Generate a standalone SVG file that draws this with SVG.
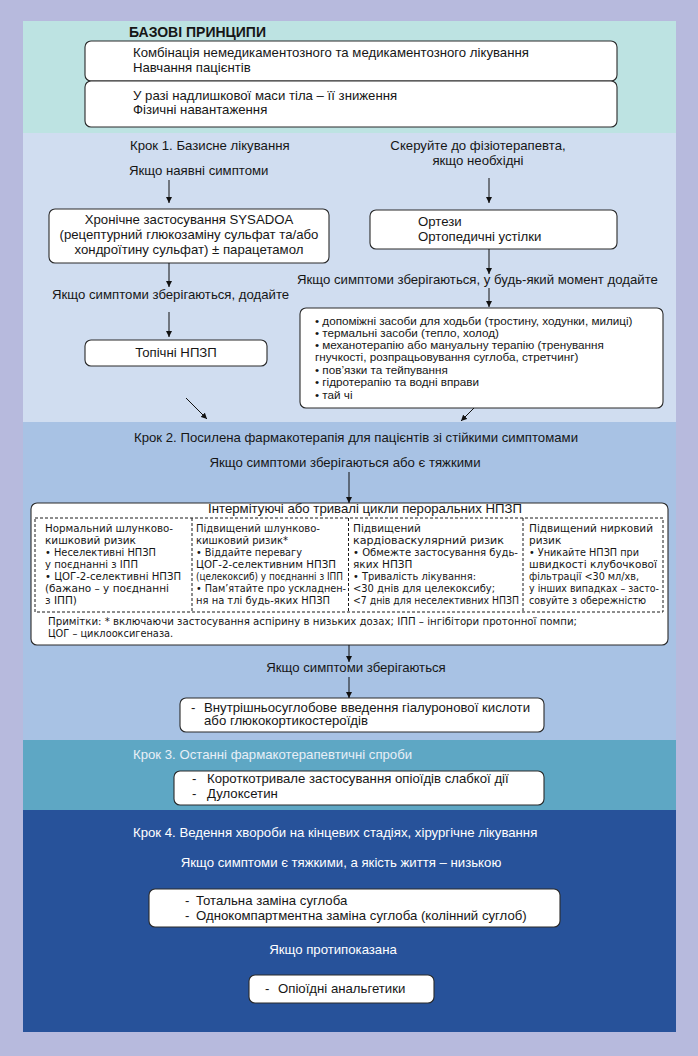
<svg xmlns="http://www.w3.org/2000/svg" width="698" height="1056" viewBox="0 0 698 1056">
<defs>
<marker id="ah" viewBox="0 0 10 10" refX="10" refY="5" markerWidth="6" markerHeight="7" markerUnits="userSpaceOnUse" orient="auto">
<path d="M0,0 L10,5 L0,10 z" fill="#111"/>
</marker>
<style>
.t{font-family:"Liberation Sans",Arial,sans-serif;font-size:13.2px;fill:#161616}
.b{font-weight:bold;font-size:14px}
.s{font-family:"Liberation Sans",Arial,sans-serif;font-size:11.7px;fill:#161616}
.tb{font-family:"DejaVu Sans",Verdana,sans-serif;font-size:10.5px;fill:#161616}
.nt{font-family:"DejaVu Sans",Verdana,sans-serif;font-size:9.8px;fill:#161616}
.w{fill:#ffffff}
.lw{fill:#e8eff7}
.c{text-anchor:middle}
.box{fill:#ffffff;stroke:#2a2a2a;stroke-width:1.1}
.dash{fill:none;stroke:#1a1a1a;stroke-width:1;stroke-dasharray:3,2}
.ln{stroke:#111;stroke-width:1;fill:none}
</style>
</defs>
<rect x="0" y="0" width="698" height="1056" fill="#b7badd"/>
<rect x="23" y="21" width="653" height="112" fill="#bde3e2"/>
<rect x="23" y="133" width="653" height="289" fill="#d0ddf0"/>
<rect x="23" y="422" width="653" height="318" fill="#a8c2e4"/>
<rect x="23" y="740" width="653" height="70" fill="#5ea7c4"/>
<rect x="23" y="810" width="653" height="222" fill="#27529a"/>

<g id="base-title"><text class="t b" x="129" y="37">БАЗОВІ ПРИНЦИПИ</text></g>
<g id="base-box1">
<rect class="box" x="85" y="41" width="532" height="40" rx="6"/>
<text class="t" x="133" y="57">Комбінація немедикаментозного та медикаментозного лікування</text>
<text class="t" x="133" y="72">Навчання пацієнтів</text>
</g>
<g id="base-box2">
<rect class="box" x="85" y="81" width="532" height="46" rx="6"/>
<text class="t" x="133" y="100">У разі надлишкової маси тіла – її зниження</text>
<text class="t" x="133" y="114">Фізичні навантаження</text>
</g>

<g id="step1-title"><text class="t" x="130" y="150">Крок 1. Базисне лікування</text></g>
<g id="step1-cond"><text class="t" x="129" y="175">Якщо наявні симптоми</text></g>
<g id="sysadoa">
<rect class="box" x="49" y="209" width="280" height="54" rx="6"/>
<text class="t c" x="189" y="224">Хронічне застосування SYSADOA</text>
<text class="t c" x="189" y="239">(рецептурний глюкозаміну сульфат та/або</text>
<text class="t c" x="189" y="254">хондроїтину сульфат) ± парацетамол</text>
</g>
<g id="cond-left"><text class="t" x="52" y="299">Якщо симптоми зберігаються, додайте</text></g>
<g id="topical">
<rect class="box" x="85" y="340" width="182" height="26" rx="6"/>
<text class="t c" x="176" y="357">Топічні НПЗП</text>
</g>
<g id="physio"><text class="t c" x="478" y="150">Скеруйте до фізіотерапевта,</text><text class="t c" x="478" y="165">якщо необхідні</text></g>
<g id="orthoses">
<rect class="box" x="370" y="210" width="247" height="39" rx="6"/>
<text class="t" x="418" y="226">Ортези</text>
<text class="t" x="418" y="241">Ортопедичні устілки</text>
</g>
<g id="cond-right"><text class="t" x="297" y="284">Якщо симптоми зберігаються, у будь-який момент додайте</text></g>
<g id="aids">
<rect class="box" x="300" y="308" width="363" height="100" rx="6"/>
<text class="s" x="315" y="325">• допоміжні засоби для ходьби (тростину, ходунки, милиці)</text>
<text class="s" x="315" y="337">• термальні засоби (тепло, холод)</text>
<text class="s" x="315" y="349">• механотерапію або мануальну терапію (тренування</text>
<text class="s" x="315" y="361">гнучкості, розпрацьовування суглоба, стретчинг)</text>
<text class="s" x="315" y="374">• пов’язки та тейпування</text>
<text class="s" x="315" y="386">• гідротерапію та водні вправи</text>
<text class="s" x="315" y="399">• тай чі</text>
</g>

<g id="step2-title"><text class="t c" x="356" y="442">Крок 2. Посилена фармакотерапія для пацієнтів зі стійкими симптомами</text></g>
<g id="step2-cond"><text class="t c" x="345" y="467">Якщо симптоми зберігаються або є тяжкими</text></g>
<g id="nsaid">
<rect class="box" x="31" y="503" width="637" height="142" rx="6"/>
<text class="t c" x="365" y="513">Інтермітуючі або тривалі цикли пероральних НПЗП</text>
<rect class="dash" x="35" y="518" width="628" height="94"/>
<line class="dash" x1="192" y1="518" x2="192" y2="612"/>
<line class="dash" x1="348.5" y1="518" x2="348.5" y2="612"/>
<line class="dash" x1="523" y1="518" x2="523" y2="612"/>
<text class="tb" x="45" y="532" textLength="128" lengthAdjust="spacingAndGlyphs">Нормальний шлунково-</text>
<text class="tb" x="45" y="544">кишковий ризик</text>
<text class="tb" x="45" y="556" textLength="111" lengthAdjust="spacingAndGlyphs">• Неселективні НПЗП</text>
<text class="tb" x="45" y="568" textLength="93" lengthAdjust="spacingAndGlyphs">у поєднанні з ІПП</text>
<text class="tb" x="45" y="580" textLength="136" lengthAdjust="spacingAndGlyphs">• ЦОГ-2-селективні НПЗП</text>
<text class="tb" x="45" y="592">(бажано – у поєднанні</text>
<text class="tb" x="45" y="604">з ІПП)</text>
<text class="tb" x="196" y="532" textLength="124" lengthAdjust="spacingAndGlyphs">Підвищений шлунково-</text>
<text class="tb" x="196" y="544" textLength="92" lengthAdjust="spacingAndGlyphs">кишковий ризик*</text>
<text class="tb" x="196" y="556" textLength="106" lengthAdjust="spacingAndGlyphs">• Віддайте перевагу</text>
<text class="tb" x="196" y="568" textLength="140" lengthAdjust="spacingAndGlyphs">ЦОГ-2-селективним НПЗП</text>
<text class="tb" x="196" y="580" font-size="8.8" textLength="147" lengthAdjust="spacingAndGlyphs">(целекоксиб) у поєднанні з ІПП</text>
<text class="tb" x="196" y="592" textLength="150" lengthAdjust="spacingAndGlyphs">• Пам’ятайте про ускладнен-</text>
<text class="tb" x="196" y="604" textLength="134" lengthAdjust="spacingAndGlyphs">ня на тлі будь-яких НПЗП</text>
<text class="tb" x="353" y="532">Підвищений</text>
<text class="tb" x="353" y="544" textLength="151" lengthAdjust="spacingAndGlyphs">кардіоваскулярний ризик</text>
<text class="tb" x="353" y="556" textLength="165" lengthAdjust="spacingAndGlyphs">• Обмежте застосування будь-</text>
<text class="tb" x="353" y="568">яких НПЗП</text>
<text class="tb" x="353" y="580" textLength="123" lengthAdjust="spacingAndGlyphs">• Тривалість лікування:</text>
<text class="tb" x="353" y="592" textLength="142" lengthAdjust="spacingAndGlyphs">&lt;30 днів для целекоксибу;</text>
<text class="tb" x="353" y="604" textLength="166" lengthAdjust="spacingAndGlyphs">&lt;7 днів для неселективних НПЗП</text>
<text class="tb" x="529" y="532" textLength="124" lengthAdjust="spacingAndGlyphs">Підвищений нирковий</text>
<text class="tb" x="529" y="544">ризик</text>
<text class="tb" x="529" y="556" textLength="110" lengthAdjust="spacingAndGlyphs">• Уникайте НПЗП при</text>
<text class="tb" x="529" y="568" textLength="128" lengthAdjust="spacingAndGlyphs">швидкості клубочкової</text>
<text class="tb" x="529" y="580" textLength="110" lengthAdjust="spacingAndGlyphs">фільтрації &lt;30 мл/хв,</text>
<text class="tb" x="529" y="592" textLength="130" lengthAdjust="spacingAndGlyphs">у інших випадках – засто-</text>
<text class="tb" x="529" y="604" textLength="117" lengthAdjust="spacingAndGlyphs">совуйте з обережністю</text>
<text class="nt" x="48" y="625" textLength="529" lengthAdjust="spacingAndGlyphs">Примітки: * включаючи застосування аспірину в низьких дозах; ІПП – інгібітори  протонної  помпи;</text>
<text class="nt" x="48" y="637">ЦОГ – циклооксигеназа.</text>
</g>
<g id="step2-cond2"><text class="t c" x="356" y="672">Якщо симптоми зберігаються</text></g>
<g id="injection">
<rect class="box" x="180" y="698" width="364" height="34" rx="6"/>
<text class="t" x="191" y="712">-<tspan x="204">Внутрішньосуглобове введення гіалуронової кислоти</tspan></text>
<text class="t" x="204" y="725">або глюкокортикостероїдів</text>
</g>

<g id="step3-title"><text class="t lw" x="133" y="759">Крок 3. Останні фармакотерапевтичні спроби</text></g>
<g id="opioids-weak">
<rect class="box" x="174" y="771" width="370" height="34" rx="6"/>
<text class="t" x="192" y="783">-<tspan x="207">Короткотривале застосування опіоїдів слабкої дії</tspan></text>
<text class="t" x="192" y="798">-<tspan x="207">Дулоксетин</tspan></text>
</g>

<g id="step4-title"><text class="t w" x="133" y="837">Крок 4. Ведення хвороби на кінцевих стадіях, хірургічне лікування</text></g>
<g id="step4-cond"><text class="t w c" x="341" y="867">Якщо симптоми є тяжкими, а якість життя – низькою</text></g>
<g id="surgery">
<rect class="box" x="149" y="889" width="411" height="38" rx="6"/>
<text class="t" x="185" y="905">-<tspan x="196">Тотальна заміна суглоба</tspan></text>
<text class="t" x="185" y="920">-<tspan x="196">Однокомпартментна заміна суглоба (колінний суглоб)</tspan></text>
</g>
<g id="step4-cond2"><text class="t w c" x="333" y="954">Якщо протипоказана</text></g>
<g id="analgesics">
<rect class="box" x="249" y="975" width="185" height="28" rx="6"/>
<text class="t" x="265" y="993">-<tspan x="278">Опіоїдні анальгетики</tspan></text>
</g>

<g id="connectors">
<line class="ln" x1="169" y1="180" x2="169" y2="203" marker-end="url(#ah)"/>
<line class="ln" x1="169" y1="263" x2="169" y2="287" marker-end="url(#ah)"/>
<line class="ln" x1="169" y1="312" x2="169" y2="337" marker-end="url(#ah)"/>
<line class="ln" x1="489" y1="178" x2="489" y2="203" marker-end="url(#ah)"/>
<line class="ln" x1="489" y1="249" x2="489" y2="274" marker-end="url(#ah)"/>
<line class="ln" x1="489" y1="288" x2="489" y2="307" marker-end="url(#ah)"/>
<line class="ln" x1="186" y1="398" x2="207" y2="419" marker-end="url(#ah)"/>
<line class="ln" x1="474" y1="408" x2="461" y2="421" marker-end="url(#ah)"/>
<line class="ln" x1="349" y1="472" x2="349" y2="503" marker-end="url(#ah)"/>
<line class="ln" x1="349" y1="645" x2="349" y2="662" marker-end="url(#ah)"/>
<line class="ln" x1="349" y1="677" x2="349" y2="698" marker-end="url(#ah)"/>
</g>
</svg>
